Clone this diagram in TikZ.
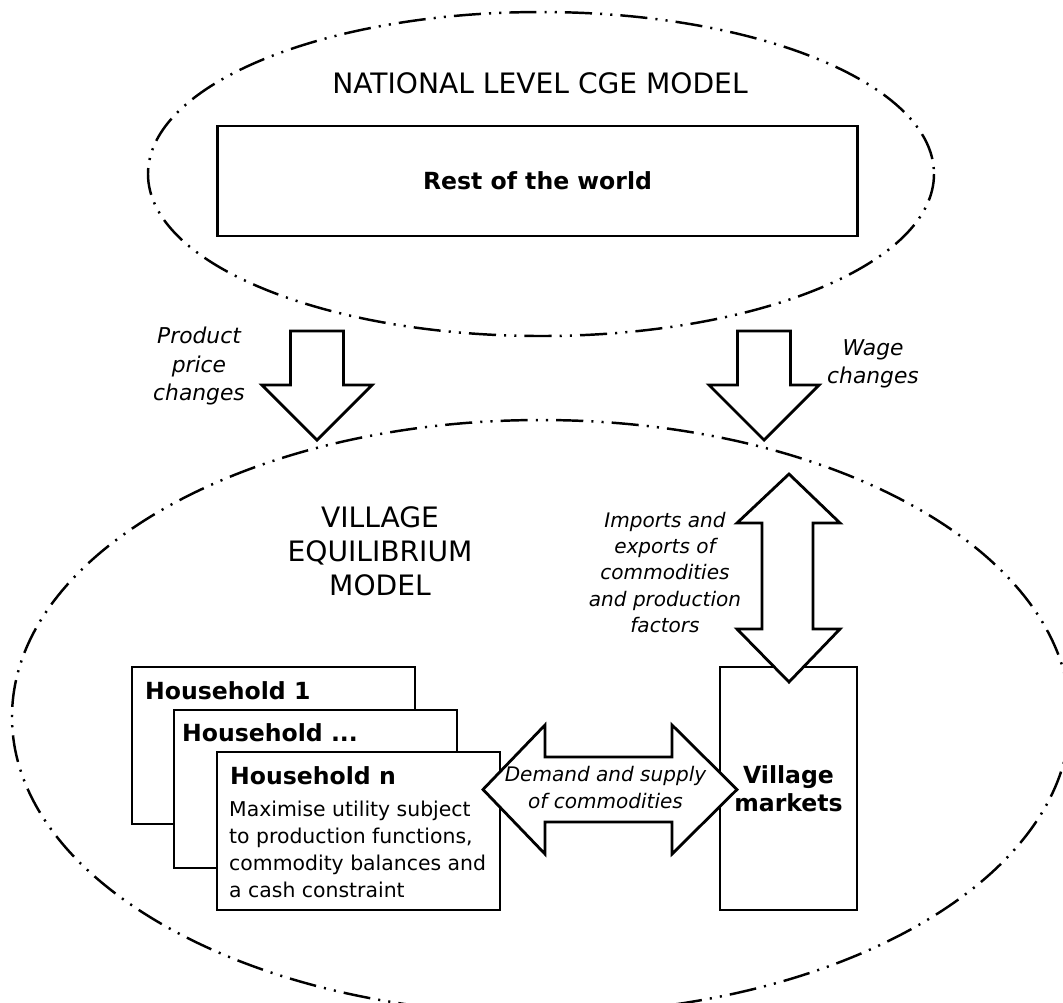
\documentclass[tikz,border=0pt]{standalone}
\usepackage{fontspec}
\setmainfont{DejaVu Sans}
\usetikzlibrary{calc}

% block arrow pointing down, #1 = x of its axis
\newcommand{\panahturun}[1]{%
  \draw[panah] (#1-26.5,331) -- (#1+26.5,331) -- (#1+26.5,385) -- (#1+55,385)
    -- (#1,440) -- (#1-55,385) -- (#1-26.5,385) -- cycle;}

\tikzset{
  model/.style={line width=0.7pt,
    dash pattern=on 7.7pt off 2.3pt on 0.6pt off 2.3pt on 0.6pt off 2.3pt},
  kotak/.style={draw, line width=0.8pt, fill=white, inner sep=0pt},
  panah/.style={draw, line width=0.8pt, fill=white, line join=miter},
  judul/.style={font=\fontsize{8}{9.7}\selectfont, align=center},
  tebal/.style={font=\fontsize{6.7}{8}\selectfont\bfseries},
  isi/.style={font=\fontsize{5.8}{7.7}\selectfont, align=left, inner sep=0pt},
  miring/.style={font=\fontsize{6.2}{8}\selectfont\itshape, align=center},
  miringkecil/.style={font=\fontsize{5.7}{7.4}\selectfont\itshape, align=center},
}

\begin{document}
\begin{tikzpicture}[x=0.01cm, y=-0.01cm]
  \useasboundingbox (0,0) rectangle (1063,1002);
  \clip (0,0) rectangle (1063,1002);

  % the two models
  \draw[model] (541,174) ellipse [x radius=393, y radius=162];
  \draw[model] (541,717) ellipse [x radius=529, y radius=297];

  \node[judul, anchor=base] (nasional) at (540,93) {NATIONAL LEVEL CGE MODEL};
  \node[kotak, tebal, minimum width=6.39cm, minimum height=1.10cm] (dunia)
    at (537.5,181) {Rest of the world};

  \node[judul] (desa) at (380,551) {VILLAGE\\EQUILIBRIUM\\MODEL};

  % households, stacked
  \node[kotak, minimum width=2.83cm, minimum height=1.57cm] (hh1) at (273.5,745.5) {};
  \node[tebal, inner sep=0pt, anchor=base west] (t1) at ($(hh1.north west)+(14,34)$) {Household 1};
  \node[kotak, minimum width=2.83cm, minimum height=1.58cm] (hh2) at (315.5,789) {};
  \node[tebal, inner sep=0pt, anchor=base west] (t2) at ($(hh2.north west)+(9,33)$) {Household ...};
  \node[kotak, minimum width=2.83cm, minimum height=1.58cm] (hhn) at (358.5,831) {};
  \node[tebal, inner sep=0pt, anchor=base west] (tn) at ($(hhn.north west)+(14,34)$) {Household n};
  \node[isi, anchor=north west] (tujuan) at ($(hhn.north west)+(13,50)$)
    {Maximise utility subject\\to production functions,\\commodity balances and\\a cash constraint};

  \node[kotak, tebal, align=center, minimum width=1.37cm, minimum height=2.43cm] (pasar)
    at (788.5,788.5) {Village\\markets};

  % price and wage links
  \panahturun{317}
  \panahturun{764}
  \node[miring] (harga) at (199,366) {Product\\price\\changes};
  \node[miring] (upah) at (873,363.5) {Wage\\changes};

  % trade with the outside
  \draw[panah] (789,474) -- (840,523) -- (813,523) -- (813,629) -- (840,629)
    -- (789,682) -- (737,629) -- (762,629) -- (762,523) -- (737,523) -- cycle;
  \node[miringkecil] (dagang) at (665,572.5)
    {Imports and\\exports of\\commodities\\and production\\factors};

  % households <-> markets
  \draw[panah] (483,789.5) -- (545,725) -- (545,757) -- (672,757) -- (672,725)
    -- (737,789.5) -- (672,854) -- (672,822) -- (545,822) -- (545,854) -- cycle;
  \node[miringkecil] (permintaan) at (605.5,787.5) {Demand and supply\\of commodities};
\end{tikzpicture}
\end{document}
